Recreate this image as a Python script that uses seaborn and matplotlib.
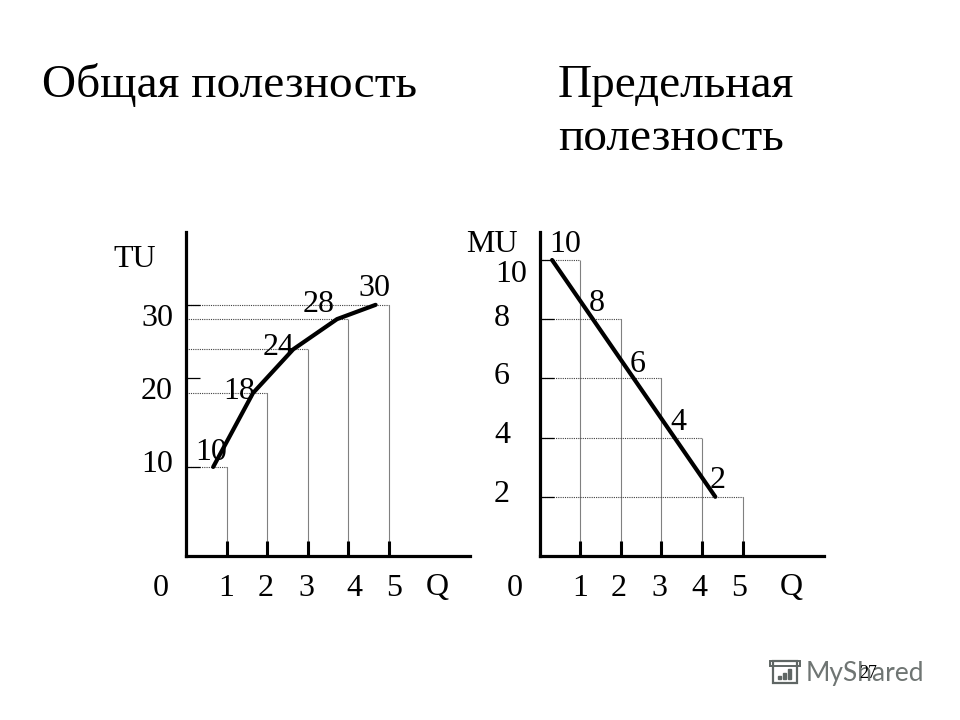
import matplotlib
matplotlib.use("Agg")
import matplotlib.pyplot as plt
from matplotlib.patches import Rectangle
import pandas as pd
import seaborn as sns

# data (the TU axis of the original is not quite linear,
# so tu_levels are heights, tu_labels are what is printed next to them)
quantity = [1, 2, 3, 4, 5]
tu_labels = ["10", "18", "24", "28", "30"]
tu_levels = [10.6, 19.4, 24.6, 28.2, 29.9]
tu_curve_q = [0.67, 1.65, 2.64, 3.72, 4.67]
tu_ticks = [10.6, 21.2, 29.9]
tu_tick_labels = ["10", "20", "30"]

mu_labels = ["10", "8", "6", "4", "2"]
mu_levels = [10, 8, 6, 4, 2]
mu_line_q = [0.31, 4.33]
mu_line_v = [10, 2]

W, H = 960, 720
sns.set_theme(style="white")
plt.rcParams["font.family"] = ["Liberation Serif", "DejaVu Serif"]

fig = plt.figure(figsize=(9.6, 7.2), dpi=100, facecolor="white")


def add_panel(left):
    # axes in pixels from the top left corner of the picture
    return fig.add_axes([left / W, 1 - 556 / H, 284 / W, 324 / H])


def label(x, y, s, size=23, **kw):
    # +2: va="center" sits a little high for this font
    fig.text(x / W, 1 - (y + 2) / H, s, fontsize=size, ha="center", va="center", color="black", **kw)


def stair_guides(ax, levels):
    ax.vlines(quantity, 0, levels, color="#808080", lw=0.8, zorder=1)
    ax.hlines(levels, 0, quantity, color="#404040", lw=0.8, linestyles=(0, (1, 1)), zorder=1)


def style_axes(ax, ymax, yticks):
    ax.set_xlim(0, 284 / 40.6)
    ax.set_ylim(0, ymax)
    ax.set_xticks(quantity)
    ax.set_yticks(yticks)
    ax.set_xticklabels([])
    ax.set_yticklabels([])
    ax.set_xlabel("")
    ax.set_ylabel("")
    ax.patch.set_alpha(0)
    ax.set_axisbelow(False)
    ax.tick_params(axis="x", direction="in", length=10.5, width=2.2, color="black", bottom=True)
    ax.tick_params(axis="y", direction="in", length=10, width=0.9, color="black", left=True)
    sns.despine(ax=ax)
    for side in ("left", "bottom"):
        ax.spines[side].set_linewidth(2.3)
        ax.spines[side].set_color("black")


# left: total utility
ax1 = add_panel(186)
stair_guides(ax1, tu_levels)
tu_df = pd.DataFrame({"q": tu_curve_q, "tu": tu_levels})
sns.lineplot(data=tu_df, x="q", y="tu", sort=False, estimator=None, color="black", lw=3, ax=ax1)
style_axes(ax1, 324 / 8.4, tu_ticks)

# right: marginal utility
ax2 = add_panel(539.5)
stair_guides(ax2, mu_levels)
mu_df = pd.DataFrame({"q": mu_line_q, "mu": mu_line_v})
sns.lineplot(data=mu_df, x="q", y="mu", sort=False, estimator=None, color="black", lw=3, ax=ax2)
style_axes(ax2, 324 / 29.6, mu_levels)

# titles
fig.text(42 / W, 1 - 97 / H, "Общая полезность", fontsize=34, color="black", ha="left", va="baseline")
fig.text(558 / W, 1 - 97 / H, "Предельная", fontsize=34, color="black", ha="left", va="baseline")
fig.text(558 / W, 1 - 150 / H, "полезность", fontsize=34, color="black", ha="left", va="baseline")

# axis labels are hand placed in the original, not centred on the ticks
for x, s in zip([161, 226, 266, 306, 354, 394, 437], ["0", "1", "2", "3", "4", "5", "Q"]):
    label(x, 586, s)
for x, s in zip([515, 580, 619, 659, 699, 739, 791], ["0", "1", "2", "3", "4", "5", "Q"]):
    label(x, 586, s)
for y, s in zip([463, 390, 317], tu_tick_labels):
    label(157, y, s)
label(135, 257, "TU")
label(492, 242, "MU")
for x, y, s in zip([511, 502, 502, 502, 502], [272, 317, 375, 434, 493], mu_labels):
    label(x, y, s)

for x, y, s in zip([211, 239, 279, 319, 374], [450, 390, 345, 302, 287], tu_labels):
    label(x, y, s)
for x, y, s in zip([565, 597, 638, 678, 718], [242, 301, 362, 421, 479], mu_labels):
    label(x, y, s)

# watermark and page number
fig.text(865 / W, 1 - 674 / H, "MyShared", fontsize=19, family="Lato", color="#6f7573",
         ha="center", va="center")
icon = "#5f6664"
fig.add_artist(Rectangle((773 / W, 1 - 683 / H), 24 / W, 22 / H, fill=False, ec=icon, lw=1.6,
                         transform=fig.transFigure))
fig.add_artist(Rectangle((770 / W, 1 - 666 / H), 30 / W, 5 / H, fill=False, ec=icon, lw=1.4,
                         transform=fig.transFigure))
for bx, bh in zip([778, 783, 788], [3, 6, 10]):
    fig.add_artist(Rectangle((bx / W, 1 - 679 / H), 3 / W, bh / H, color=icon,
                             transform=fig.transFigure))
label(868, 671, "27", size=13)

fig.savefig("out.png", dpi=100, facecolor="white")
